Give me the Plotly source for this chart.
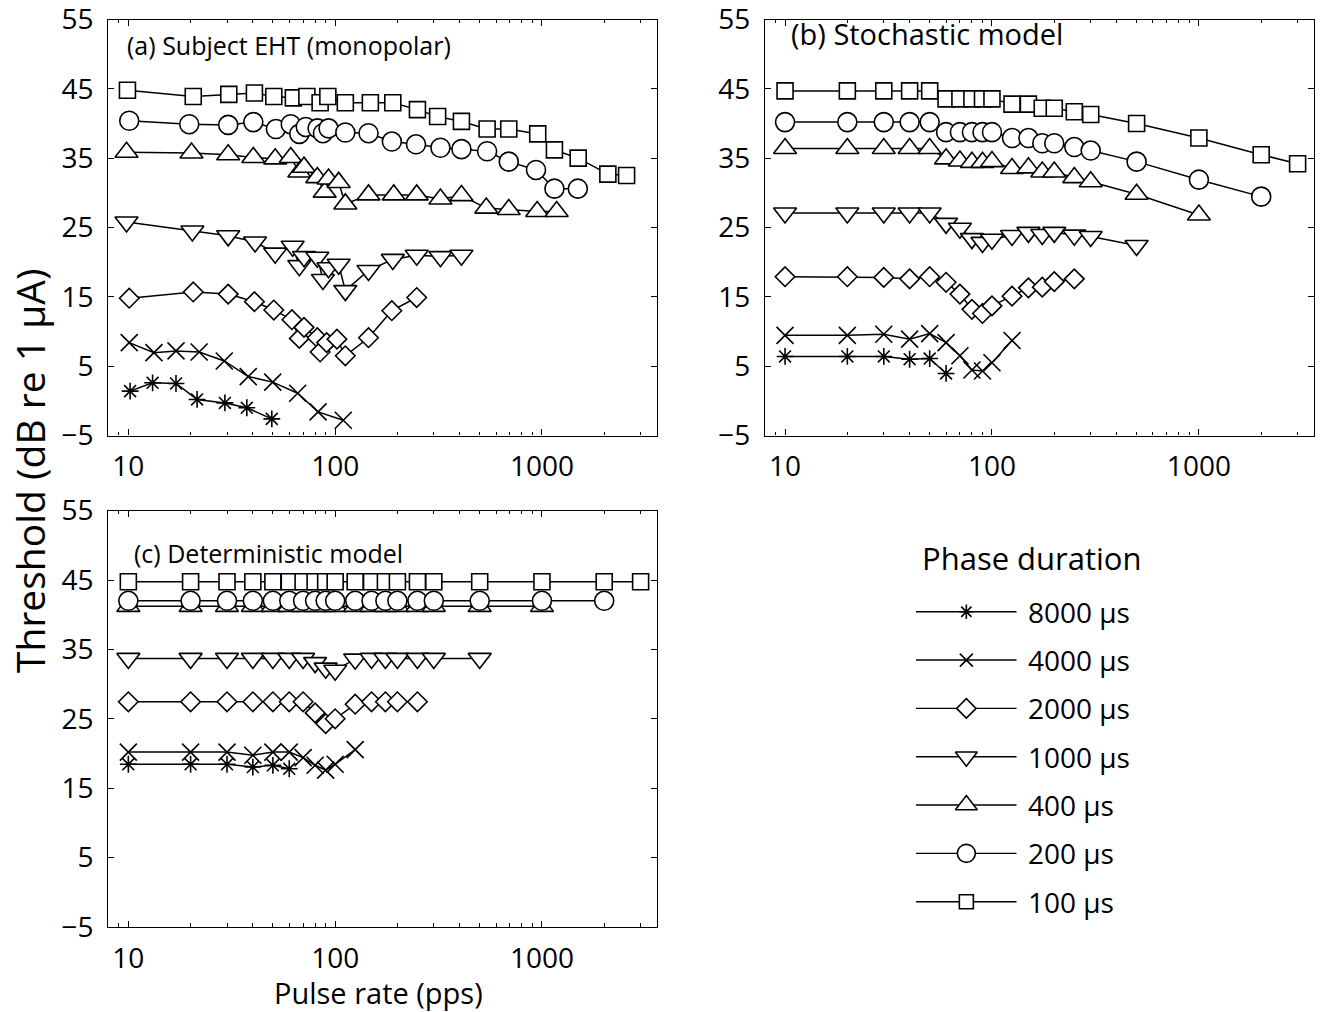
import math
import plotly.graph_objects as go

# ---------------- data ----------------
DURATIONS = [8000, 4000, 2000, 1000, 400, 200, 100]
LEGEND_LABELS = ["8000 µs", "4000 µs", "2000 µs", "1000 µs", "400 µs", "200 µs", "100 µs"]
PANEL_TITLES = ["(a) Subject EHT (monopolar)", "(b) Stochastic model", "(c) Deterministic model"]
X_TICKS = [10, 100, 1000]
X_MINOR = [9, 20, 30, 40, 50, 60, 70, 80, 90, 200, 300, 400, 500, 600, 700, 800, 900, 2000, 3000]
Y_TICKS = [-5, 5, 15, 25, 35, 45, 55]
Y_TICKTEXT = ["−5", "5", "15", "25", "35", "45", "55"]

# (a) Subject EHT
A_RATE_100 = [9.9, 20.6, 30.6, 40.7, 50.5, 62.8, 73.0, 84.6, 92.2, 112, 148, 190, 250, 313, 408, 543, 691, 954, 1149, 1497, 2083, 2566]
A_THR_100 = [44.8, 43.9, 44.2, 44.4, 43.9, 43.7, 43.9, 43.0, 43.9, 43.0, 43.0, 43.0, 42.0, 41.0, 40.3, 39.2, 39.2, 38.5, 36.2, 35.0, 32.7, 32.5]
A_RATE_200 = [10.1, 19.7, 30.4, 40.2, 51.7, 61.0, 67.1, 72.1, 82.2, 87.3, 92.9, 112, 145, 188, 246, 323, 408, 543, 691, 936, 1149, 1491]
A_THR_200 = [40.4, 39.9, 39.8, 40.2, 39.2, 39.9, 38.5, 39.5, 39.3, 38.6, 39.3, 38.7, 38.6, 37.4, 37.0, 36.5, 36.3, 36.0, 34.5, 33.3, 30.6, 30.6]
A_RATE_400 = [9.8, 20.2, 30.4, 40.2, 51.3, 61.0, 67.1, 70.7, 82.0, 89.0, 92.9, 104, 112, 145, 192, 248, 323, 408, 538, 691, 948, 1178]
A_THR_400 = [35.85, 35.75, 35.5, 35.1, 34.9, 35.1, 33.0, 33.7, 32.2, 30.1, 32.0, 31.5, 28.4, 29.7, 29.7, 29.7, 29.1, 29.6, 27.8, 27.6, 27.3, 27.3]
A_RATE_1000 = [9.8, 20.4, 30.4, 41.0, 51.3, 62.3, 67.1, 70.7, 82.0, 87.3, 92.9, 104, 112, 145, 190, 248, 323, 408]
A_THR_1000 = [25.8, 24.5, 23.8, 22.9, 21.3, 22.3, 19.5, 20.8, 20.7, 17.5, 19.2, 19.7, 15.9, 18.8, 20.4, 21.0, 20.8, 21.0]
A_RATE_2000 = [10.1, 20.6, 30.4, 40.7, 50.5, 61.8, 67.1, 70.7, 82.0, 84.6, 91.0, 102, 112, 145, 188, 248]
A_THR_2000 = [14.8, 15.7, 15.4, 14.3, 13.1, 11.7, 9.0, 10.6, 9.1, 7.05, 8.4, 8.9, 6.5, 9.1, 13.0, 14.9]
A_RATE_4000 = [10.1, 13.3, 17.0, 22.0, 29.1, 38.0, 49.9, 65.9, 82.7, 109.5]
A_THR_4000 = [8.4, 6.95, 7.2, 7.05, 5.75, 3.5, 2.7, 1.1, -1.6, -2.8]
A_RATE_8000 = [10.2, 13.1, 17.0, 21.5, 29.3, 37.4, 49.4]
A_THR_8000 = [1.4, 2.6, 2.5, 0.2, -0.3, -1.0, -2.6]

# (b) Stochastic model and (c) Deterministic model share the same pulse rates
MODEL_RATES = [10, 20, 30, 40, 50, 60, 70, 80, 90, 100, 125, 150, 175, 200, 250, 300, 500, 1000, 2000, 3000]

B_THR_100 = [44.7, 44.7, 44.7, 44.7, 44.7, 43.55, 43.55, 43.55, 43.55, 43.55, 42.8, 42.8, 42.2, 42.2, 41.7, 41.3, 40.0, 37.9, 35.5, 34.2]
B_THR_200 = [40.2, 40.2, 40.2, 40.2, 40.2, 38.75, 38.75, 38.75, 38.75, 38.75, 37.9, 37.9, 37.15, 37.15, 36.6, 36.1, 34.5, 31.9, 29.45]
B_THR_400 = [36.4, 36.4, 36.4, 36.4, 36.4, 34.9, 34.6, 34.4, 34.4, 34.5, 33.5, 33.6, 33.0, 33.0, 32.2, 31.6, 29.8, 26.8]
B_THR_1000 = [27.1, 27.1, 27.1, 27.1, 27.1, 25.6, 24.9, 23.4, 22.85, 23.3, 23.85, 24.3, 24.0, 24.3, 23.9, 23.7, 22.4]
B_THR_2000 = [17.9, 17.9, 17.8, 17.6, 17.9, 17.1, 15.4, 13.2, 12.6, 13.7, 15.1, 16.3, 16.4, 17.2, 17.6]
B_THR_4000 = [9.45, 9.45, 9.6, 8.9, 9.7, 8.4, 6.5, 4.45, 4.3, 5.5, 8.7]
B_THR_8000 = [6.4, 6.4, 6.4, 6.0, 6.1, 3.95]

C_THR_100 = [44.75, 44.75, 44.75, 44.75, 44.75, 44.75, 44.75, 44.75, 44.75, 44.75, 44.75, 44.75, 44.75, 44.75, 44.75, 44.75, 44.75, 44.75, 44.75, 44.75]
C_THR_200 = [42.0, 42.0, 42.0, 42.0, 42.0, 42.0, 42.0, 42.0, 42.0, 42.0, 42.0, 42.0, 42.0, 42.0, 42.0, 42.0, 42.0, 42.0, 42.0]
C_THR_400 = [41.2, 41.2, 41.2, 41.2, 41.2, 41.2, 41.2, 41.2, 41.2, 41.2, 41.2, 41.2, 41.2, 41.2, 41.2, 41.2, 41.2, 41.2]
C_THR_1000 = [33.7, 33.7, 33.7, 33.7, 33.7, 33.7, 33.7, 33.1, 32.3, 32.0, 33.6, 33.7, 33.7, 33.7, 33.7, 33.7, 33.7]
C_THR_2000 = [27.45, 27.45, 27.45, 27.45, 27.45, 27.45, 27.45, 25.85, 24.3, 25.0, 27.1, 27.45, 27.45, 27.45, 27.45]
C_THR_4000 = [20.2, 20.2, 20.2, 19.75, 20.2, 20.2, 19.4, 18.3, 17.6, 18.45, 20.55]
C_THR_8000 = [18.45, 18.45, 18.45, 18.05, 18.3, 17.8]

# ---------------- styles ----------------
SYMBOL = {8000: "asterisk", 4000: "x-thin", 2000: "diamond", 1000: "triangle-down",
          400: "triangle-up", 200: "circle", 100: "square"}
SIZE = {8000: 14, 4000: 17, 2000: 15, 1000: 20, 400: 20, 200: 19, 100: 16}
LEG_SIZE = {8000: 12, 4000: 13, 2000: 15, 1000: 19, 400: 19, 200: 18, 100: 14}
FONT = "Open Sans"
W, H = 1326, 1012


def marker(d, size):
    line_only = SYMBOL[d] in ("asterisk", "x-thin")
    return dict(symbol=SYMBOL[d], size=size,
                color="black" if line_only else "white",
                line=dict(color="black", width=1.6))


panels = [
    ("x", "y", {
        8000: (A_RATE_8000, A_THR_8000), 4000: (A_RATE_4000, A_THR_4000),
        2000: (A_RATE_2000, A_THR_2000), 1000: (A_RATE_1000, A_THR_1000),
        400: (A_RATE_400, A_THR_400), 200: (A_RATE_200, A_THR_200),
        100: (A_RATE_100, A_THR_100)}),
    ("x2", "y2", {
        8000: (MODEL_RATES, B_THR_8000), 4000: (MODEL_RATES, B_THR_4000),
        2000: (MODEL_RATES, B_THR_2000), 1000: (MODEL_RATES, B_THR_1000),
        400: (MODEL_RATES, B_THR_400), 200: (MODEL_RATES, B_THR_200),
        100: (MODEL_RATES, B_THR_100)}),
    ("x3", "y3", {
        8000: (MODEL_RATES, C_THR_8000), 4000: (MODEL_RATES, C_THR_4000),
        2000: (MODEL_RATES, C_THR_2000), 1000: (MODEL_RATES, C_THR_1000),
        400: (MODEL_RATES, C_THR_400), 200: (MODEL_RATES, C_THR_200),
        100: (MODEL_RATES, C_THR_100)}),
]

fig = go.Figure()
for xa, ya, series in panels:
    for d in DURATIONS:
        xs, ys = series[d]
        n = min(len(xs), len(ys))
        fig.add_trace(go.Scatter(
            x=xs[:n], y=ys[:n], xaxis=xa, yaxis=ya, mode="lines+markers",
            line=dict(color="black", width=1.5), marker=marker(d, SIZE[d]),
            showlegend=False, hoverinfo="skip"))

# legend drawn in its own hidden axes
for i, d in enumerate(DURATIONS):
    row = len(DURATIONS) - 1 - i
    fig.add_trace(go.Scatter(x=[0, 1], y=[row, row], xaxis="x4", yaxis="y4", mode="lines",
                             line=dict(color="black", width=1.4), showlegend=False, hoverinfo="skip"))
    fig.add_trace(go.Scatter(x=[0.5], y=[row], xaxis="x4", yaxis="y4", mode="markers",
                             marker=marker(d, LEG_SIZE[d]), showlegend=False, hoverinfo="skip"))


def px(p):
    return p / W


def py(p):
    return 1 - p / H


A_XD = [px(108.3), px(657)]
B_XD = [px(765), px(1314)]
TOP_YD = [py(435.5), py(19.5)]
C_YD = [py(927), py(510.6)]

tickfont = dict(family=FONT, size=28, color="black")
common = dict(showline=True, linecolor="black", linewidth=1.3, mirror="ticks", ticks="inside",
              ticklen=6, tickwidth=1.3, tickcolor="black", showgrid=False, zeroline=False,
              tickfont=tickfont, automargin=False, ticklabeloverflow="allow")
xcommon = dict(common, type="log", range=[math.log10(8), math.log10(3600)],
               tickmode="array", tickvals=X_TICKS, ticktext=[str(v) for v in X_TICKS],
               ticklabelstandoff=6,
               minor=dict(tickmode="array", tickvals=X_MINOR, ticks="inside", ticklen=3.5,
                          tickwidth=1.1, tickcolor="black", showgrid=False))
ycommon = dict(common, range=[-5, 55], tickmode="array", tickvals=Y_TICKS, ticktext=Y_TICKTEXT,
               ticklabelstandoff=8)

fig.update_layout(
    width=W, height=H, margin=dict(l=0, r=0, t=0, b=0, autoexpand=False),
    paper_bgcolor="white", plot_bgcolor="white", showlegend=False,
    font=dict(family=FONT, color="black"),
    xaxis=dict(xcommon, domain=A_XD, anchor="y"),
    yaxis=dict(ycommon, domain=TOP_YD, anchor="x"),
    xaxis2=dict(xcommon, domain=B_XD, anchor="y2"),
    yaxis2=dict(ycommon, domain=TOP_YD, anchor="x2"),
    xaxis3=dict(xcommon, domain=A_XD, anchor="y3"),
    yaxis3=dict(ycommon, domain=C_YD, anchor="x3"),
    xaxis4=dict(domain=[px(916), px(1016.7)], range=[0, 1], visible=False, anchor="y4", automargin=False),
    yaxis4=dict(domain=[py(930.7), py(563.4)], range=[-0.6, 7.0], visible=False, anchor="x4", automargin=False),
)

annotations = []
title_pos = [("x domain", "y domain", 17, 25, 25), ("x2 domain", "y2 domain", 24, 14, 29),
             ("x3 domain", "y3 domain", 24, 42, 25)]
for (xr, yr, dx, dy, fs), t, dom_x, dom_y in zip(title_pos, PANEL_TITLES, [A_XD, B_XD, A_XD], [TOP_YD, TOP_YD, C_YD]):
    wpx = (dom_x[1] - dom_x[0]) * W
    hpx = (dom_y[1] - dom_y[0]) * H
    annotations.append(dict(text=t, xref=xr, yref=yr, x=dx / wpx, y=1 - dy / hpx,
                            xanchor="left", yanchor="middle", showarrow=False,
                            font=dict(family=FONT, size=fs, color="black")))

annotations.append(dict(text="Phase duration", xref="paper", yref="paper", x=px(1032), y=py(558),
                        xanchor="center", yanchor="middle", showarrow=False,
                        font=dict(family=FONT, size=31, color="black")))
for i, lab in enumerate(LEGEND_LABELS):
    row = len(DURATIONS) - 1 - i
    annotations.append(dict(text=lab, xref="paper", yref="y4", x=px(1026), y=row,
                            xanchor="left", yanchor="middle", showarrow=False,
                            font=dict(family=FONT, size=28, color="black")))

annotations.append(dict(text="Threshold (dB re 1 µA)", xref="paper", yref="paper", x=px(29), y=py(471),
                        xanchor="center", yanchor="middle", textangle=-90, showarrow=False,
                        font=dict(family=FONT, size=39, color="black")))
annotations.append(dict(text="Pulse rate (pps)", xref="paper", yref="paper", x=px(378), y=py(992),
                        xanchor="center", yanchor="middle", showarrow=False,
                        font=dict(family=FONT, size=29, color="black")))
fig.update_layout(annotations=annotations)

fig.write_html("out.html")
